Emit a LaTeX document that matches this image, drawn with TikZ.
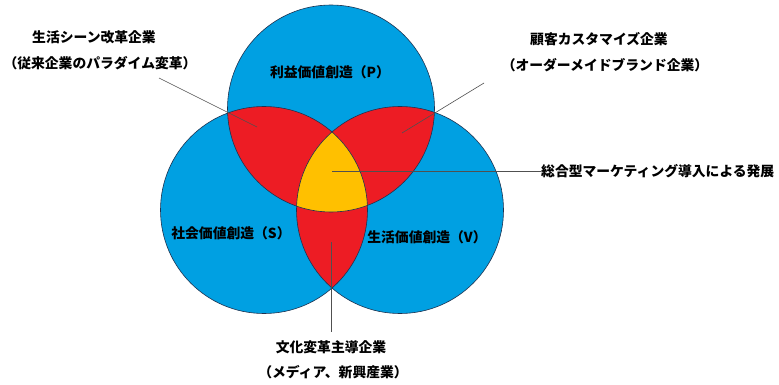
\documentclass[tikz,border=0pt]{standalone}
\usepackage{fontspec}
\setmainfont{Noto Sans CJK JP}
\definecolor{cblue}{RGB}{0,160,226}
\definecolor{cred}{RGB}{237,28,36}
\definecolor{cyel}{RGB}{255,192,0}
\definecolor{cedge}{RGB}{30,50,80}
\definecolor{cline}{RGB}{80,80,80}
\tikzset{
  lbl/.style={font=\fontsize{13.8}{15}\selectfont\bfseries, inner sep=0pt, text=black},
  lead/.style={draw=cline, line width=0.6pt},
  ring/.style={draw=cedge, line width=0.6pt}
}
\begin{document}
\begin{tikzpicture}[x=1pt,y=-1pt]
\useasboundingbox (0,0) rectangle (779,385);
\fill[white] (0,0) rectangle (779,385);
\coordinate (cP) at (331,108.5);
\coordinate (cS) at (264,210);
\coordinate (cV) at (400,210);
\def\R{103.5pt}
% blue discs
\fill[cblue] (cP) circle[radius=\R];
\fill[cblue] (cS) circle[radius=\R];
\fill[cblue] (cV) circle[radius=\R];
% pairwise intersections red
\begin{scope}
  \clip (cP) circle[radius=\R];
  \fill[cred] (cS) circle[radius=\R];
  \fill[cred] (cV) circle[radius=\R];
\end{scope}
\begin{scope}
  \clip (cS) circle[radius=\R];
  \fill[cred] (cV) circle[radius=\R];
\end{scope}
% triple intersection yellow
\begin{scope}
  \clip (cP) circle[radius=\R];
  \clip (cS) circle[radius=\R];
  \fill[cyel] (cV) circle[radius=\R];
\end{scope}
% outlines
\draw[ring] (cP) circle[radius=\R];
\draw[ring] (cS) circle[radius=\R];
\draw[ring] (cV) circle[radius=\R];
% circle labels
\node[lbl] (tP) at (330,72) {利益価値創造（P）};
\node[lbl] (tS) at (231,233) {社会価値創造（S）};
\node[lbl] (tV) at (427,237) {生活価値創造（V）};
% outer labels
\node[lbl] (a1) at (94,37) {生活シーン改革企業};
\node[lbl] (a2) at (100,63) {（従来企業のパラダイム変革）};
\node[lbl] (b1) at (599,39) {顧客カスタマイズ企業};
\node[lbl] (b2) at (605,65) {（オーダーメイドブランド企業）};
\node[lbl, anchor=west] (c1) at (541,171) {総合型マーケティング導入による発展};
\node[lbl] (d1) at (331,347) {文化変革主導企業};
\node[lbl] (d2) at (333,372) {（メディア、新興産業）};
% leader lines
\coordinate (la) at (159,78);
\coordinate (lae) at (257,127);
\coordinate (lb) at (484,83);
\coordinate (lbe) at (402,133);
\coordinate (lce) at (332,171);
\coordinate (ld) at (331,332);
\coordinate (lde) at (331,242);
\draw[lead] (la) -- (lae);
\draw[lead] (lb) -- (lbe);
\draw[lead] (lce) -- (c1.west);
\draw[lead] (lde) -- (ld);
\end{tikzpicture}
\end{document}
